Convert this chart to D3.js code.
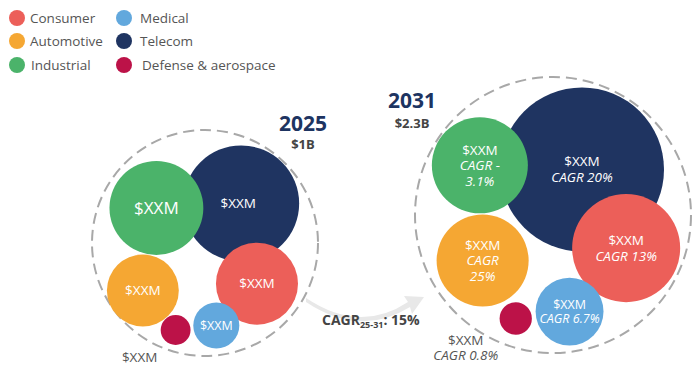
<!DOCTYPE html>
<html>
<head>
<meta charset="utf-8">
<style>
body { margin: 0; background: #fff; }
svg { display: block; font-family: "Open Sans", "Noto Sans", sans-serif; }
.legend text { font-size: 13.5px; fill: #555; }
.lbl { fill: #fff; text-anchor: middle; }
.cagr { font-style: italic; }
.yr { font-weight: bold; fill: #1d3461; font-size: 21px; text-anchor: middle; }
.tot { font-weight: bold; fill: #444; font-size: 13px; text-anchor: middle; }
</style>
</head>
<body>
<script src="https://cdnjs.cloudflare.com/ajax/libs/d3/7.8.5/d3.min.js"></script>
<script>
const segments = ["Consumer", "Automotive", "Industrial", "Medical", "Telecom", "Defense & aerospace"];
const segColors = ["#ec5f59", "#f5a733", "#4bb36a", "#62a8dd", "#1f3461", "#bc1248"];
// market size, $M
const values2025 = [181, 139, 237, 57, 362, 24];
const values2031 = [314, 228, 248, 124, 724, 28];
const cagr = ["13%", "25%", "-3.1%", "6.7%", "20%", "0.8%"];
const years = ["2025", "2031"];
const totals = ["$1B", "$2.3B"];
const overallCagr = "15%";

const W = 700, H = 372;
const svg = d3.select("body").append("svg").attr("width", W).attr("height", H);

// legend
const leg = svg.append("g").attr("class", "legend");
segments.forEach((s, i) => {
  const col = Math.floor(i / 3), row = i % 3;
  const g = leg.append("g").attr("transform", `translate(${col ? 124 : 17},${[18, 41, 65][row]})`);
  g.append("circle").attr("r", 8).attr("fill", segColors[i]);
  g.append("text").attr("x", col ? 16 + (i === 5 ? 2 : 0) : 13 + (i === 2 ? 1 : 0)).attr("y", 4.5).text(s);
});

const rScale = d3.scaleSqrt().domain([0, 362]).range([0, 58]);

// placement of each bubble inside its cluster, in cluster-radius units
const clusters = [
  { cx: 205, cy: 243, R: 113, values: values2025,
    place: [[0.46, 0.36], [-0.55, 0.42], [-0.43, -0.31], [0.10, 0.73], [0.32, -0.35], [-0.26, 0.77]] },
  { cx: 553, cy: 215, R: 138, values: values2031,
    place: [[0.53, 0.24], [-0.51, 0.33], [-0.53, -0.36], [0.12, 0.70], [0.21, -0.33], [-0.27, 0.75]] }
];
const drawOrder = [4, 2, 0, 1, 3, 5];

// arrow between clusters
const ag = svg.append("g");
ag.append("path")
  .attr("d", "M306,298 Q360,334 408,302 L404,296 L424,297 L412,314 L410,307 Q360,338 306,302 Z")
  .attr("fill", "#e8e8e8");
const ct = ag.append("text").attr("x", 322).attr("y", 325)
  .attr("font-weight", "bold").attr("font-size", 14).attr("fill", "#444");
ct.append("tspan").text("CAGR");
ct.append("tspan").attr("font-size", 9).attr("dy", 3).text("25-31");
ct.append("tspan").attr("dy", -3).text(": " + overallCagr);

clusters.forEach((c, k) => {
  const x = d3.scaleLinear().domain([-1, 1]).range([c.cx - c.R, c.cx + c.R]);
  const y = d3.scaleLinear().domain([-1, 1]).range([c.cy - c.R, c.cy + c.R]);
  const g = svg.append("g");
  g.append("circle").attr("cx", c.cx).attr("cy", c.cy).attr("r", c.R)
    .attr("fill", "none").attr("stroke", "#a8a8a8").attr("stroke-width", 2)
    .attr("stroke-dasharray", "11,6");
  const data = drawOrder.map(i => ({ i, v: c.values[i], x: x(c.place[i][0]), y: y(c.place[i][1]), r: rScale(c.values[i]) }));
  g.selectAll("circle.b").data(data).join("circle").attr("class", "b")
    .attr("cx", d => d.x).attr("cy", d => d.y).attr("r", d => d.r)
    .attr("fill", d => segColors[d.i]);

  data.forEach(d => {
    let lines;
    if (k === 0) lines = [{ t: "$XXM" }];
    else {
      const c2 = cagr[d.i];
      if (d.i === 2) lines = [{ t: "$XXM" }, { t: "CAGR -", it: 1 }, { t: c2.slice(1), it: 1 }];
      else if (d.i === 1) lines = [{ t: "$XXM" }, { t: "CAGR", it: 1 }, { t: c2, it: 1 }];
      else lines = [{ t: "$XXM" }, { t: "CAGR " + c2, it: 1 }];
    }
    const outside = d.i === 5;
    const fs = k === 0 && d.i === 2 ? 17 : (d.i === 3 ? 12.5 : 13.5);
    const step = d.i === 3 ? 14 : 15.5;
    const n = lines.length;
    let bx = d.x, by = d.y - (n - 1) * step / 2 + fs * 0.35;
    if (outside) { bx = k === 0 ? d.x - 36 : d.x - 50; by = d.y + (k === 0 ? 32 : 26); }
    if (k === 0 && d.i === 4) bx = d.x - 3;
    lines.forEach((l, j) => {
      g.append("text").attr("class", "lbl" + (l.it ? " cagr" : ""))
        .attr("x", bx).attr("y", by + j * step)
        .style("font-size", fs + "px")
        .style("fill", outside ? "#555" : "#fff")
        .text(l.t);
    });
  });
});

// year headers
const heads = [[303, 131, 149], [412, 108, 128]];
years.forEach((yv, i) => {
  svg.append("text").attr("class", "yr").attr("x", heads[i][0]).attr("y", heads[i][1]).text(yv);
  svg.append("text").attr("class", "tot").attr("x", heads[i][0]).attr("y", heads[i][2]).text(totals[i]);
});
</script>
</body>
</html>
